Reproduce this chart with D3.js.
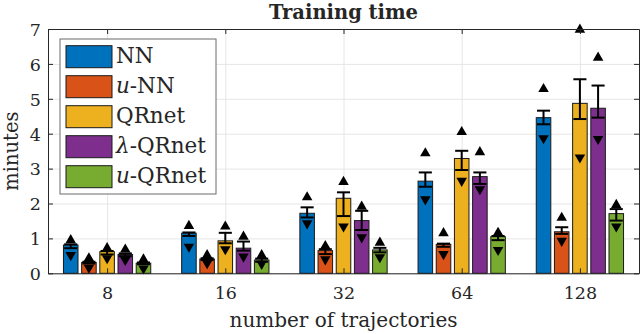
<!DOCTYPE html>
<html>
<head>
<meta charset="utf-8">
<script src="https://cdn.jsdelivr.net/npm/d3@7"></script>
<style>
body { margin: 0; background: #fff; }
text { font-family: "DejaVu Serif", serif; fill: #262626; }
</style>
</head>
<body>
<div id="chart"></div>
<script>
var categories = ["8", "16", "32", "64", "128"];
var seriesNames = ["NN", "u-NN", "QRnet", "λ-QRnet", "u-QRnet"];
var colors = ["#0072BD", "#D95319", "#EDB120", "#7E2F8E", "#77AC30"];
var yTicks = [0, 1, 2, 3, 4, 5, 6, 7];

// mean training time (bar height)
var meanNN     = [0.81, 1.15, 1.72, 2.64, 4.46];
var meanUNN    = [0.31, 0.41, 0.65, 0.83, 1.19];
var meanQR     = [0.62, 0.93, 2.15, 3.29, 4.87];
var meanLQR    = [0.54, 0.72, 1.51, 2.77, 4.73];
var meanUQR    = [0.29, 0.38, 0.67, 1.05, 1.71];

// error bar ends
var upNN  = [0.83, 1.17, 1.89, 2.89, 4.66];
var upUNN = [0.33, 0.43, 0.69, 0.85, 1.32];
var upQR  = [0.64, 1.16, 2.32, 3.51, 5.56];
var upLQR = [0.57, 0.91, 1.79, 2.89, 5.38];
var upUQR = [0.31, 0.42, 0.73, 1.07, 1.84];

var loNN  = [0.72, 1.07, 1.60, 2.48, 4.27];
var loUNN = [0.28, 0.38, 0.55, 0.76, 1.13];
var loQR  = [0.54, 0.86, 1.64, 2.96, 4.42];
var loLQR = [0.49, 0.65, 1.24, 2.56, 4.46];
var loUQR = [0.26, 0.33, 0.60, 0.95, 1.51];

// max (up triangle) and min (down triangle)
var maxNN  = [0.95, 1.36, 2.18, 3.44, 5.28];
var maxUNN = [0.43, 0.52, 0.78, 1.15, 1.59];
var maxQR  = [0.72, 1.34, 2.62, 4.05, 6.98];
var maxLQR = [0.68, 1.05, 1.91, 3.47, 6.18];
var maxUQR = [0.40, 0.52, 0.88, 1.16, 1.96];

var minNN  = [0.52, 0.76, 1.43, 2.12, 3.87];
var minUNN = [0.16, 0.29, 0.40, 0.55, 0.93];
var minQR  = [0.43, 0.69, 1.34, 2.65, 3.32];
var minLQR = [0.38, 0.48, 1.03, 2.41, 3.85];
var minUQR = [0.14, 0.27, 0.46, 0.67, 1.34];

var means = [meanNN, meanUNN, meanQR, meanLQR, meanUQR];
var ups = [upNN, upUNN, upQR, upLQR, upUQR];
var los = [loNN, loUNN, loQR, loLQR, loUQR];
var maxs = [maxNN, maxUNN, maxQR, maxLQR, maxUQR];
var mins = [minNN, minUNN, minQR, minLQR, minUQR];

var W = 640, H = 334;
var pLeft = 48, pRight = 639, pTop = 29, pBottom = 273.3;

var svg = d3.select("#chart").append("svg")
    .attr("width", W)
    .attr("height", H);

var x = d3.scaleLinear().domain([0.5, 5.5]).range([pLeft, pRight]);
var y = d3.scaleLinear().domain([0, 7]).range([pBottom, pTop]);

var groupWidth = Math.min(0.8, 5 / (5 + 1.5));
var step = groupWidth / 5;
var barW = x(0.8 * step) - x(0);

// grid
svg.append("g")
    .attr("transform", "translate(" + pLeft + ",0)")
    .call(d3.axisLeft(y).tickValues(yTicks).tickSize(-(pRight - pLeft)).tickFormat(""))
    .call(function(g) {
        g.select(".domain").remove();
        g.selectAll("line").attr("stroke", "#e6e6e6");
    });
svg.append("g")
    .attr("transform", "translate(0," + pBottom + ")")
    .call(d3.axisBottom(x).tickValues([1, 2, 3, 4, 5]).tickSize(-(pBottom - pTop)).tickFormat(""))
    .call(function(g) {
        g.select(".domain").remove();
        g.selectAll("line").attr("stroke", "#e6e6e6");
    });

// flat list of bars
var bars = [];
for (var s = 0; s < seriesNames.length; s++) {
    for (var c = 0; c < categories.length; c++) {
        bars.push({
            s: s,
            cx: (c + 1) + (s - 2) * step,
            mean: means[s][c],
            up: ups[s][c],
            lo: los[s][c],
            max: maxs[s][c],
            min: mins[s][c]
        });
    }
}

svg.selectAll(".bar")
    .data(bars)
    .enter()
    .append("rect")
    .attr("class", "bar")
    .attr("x", function(d) { return x(d.cx) - barW / 2; })
    .attr("y", function(d) { return y(d.mean); })
    .attr("width", barW)
    .attr("height", function(d) { return y(0) - y(d.mean); })
    .attr("fill", function(d) { return colors[d.s]; })
    .attr("stroke", "#1a1a1a")
    .attr("stroke-width", 1);

// error bars
var capW = barW * 0.9;
var eb = svg.selectAll(".err")
    .data(bars)
    .enter()
    .append("g")
    .attr("class", "err")
    .attr("stroke", "#000")
    .attr("stroke-width", 2);
eb.append("line")
    .attr("x1", function(d) { return x(d.cx); })
    .attr("x2", function(d) { return x(d.cx); })
    .attr("y1", function(d) { return y(d.lo); })
    .attr("y2", function(d) { return y(d.up); });
eb.append("line")
    .attr("x1", function(d) { return x(d.cx) - capW / 2; })
    .attr("x2", function(d) { return x(d.cx) + capW / 2; })
    .attr("y1", function(d) { return y(d.up); })
    .attr("y2", function(d) { return y(d.up); });
eb.append("line")
    .attr("x1", function(d) { return x(d.cx) - capW / 2; })
    .attr("x2", function(d) { return x(d.cx) + capW / 2; })
    .attr("y1", function(d) { return y(d.lo); })
    .attr("y2", function(d) { return y(d.lo); });

// min / max markers
var tri = d3.symbol().type(d3.symbolTriangle).size(48);
svg.selectAll(".maxm")
    .data(bars)
    .enter()
    .append("path")
    .attr("class", "maxm")
    .attr("d", tri)
    .attr("transform", function(d) { return "translate(" + x(d.cx) + "," + y(d.max) + ")"; })
    .attr("fill", "#000");
svg.selectAll(".minm")
    .data(bars)
    .enter()
    .append("path")
    .attr("class", "minm")
    .attr("d", tri)
    .attr("transform", function(d) { return "translate(" + x(d.cx) + "," + y(d.min) + ") rotate(180)"; })
    .attr("fill", "#000");

// axes
var axisColor = "#262626";
var styleAxis = function(g) {
    g.select(".domain").attr("stroke", axisColor);
    g.selectAll(".tick line").attr("stroke", axisColor);
    g.selectAll(".tick text").style("font-family", "DejaVu Serif").attr("fill", axisColor);
};
svg.append("g")
    .attr("transform", "translate(" + pLeft + ",0)")
    .call(d3.axisLeft(y).tickValues(yTicks).tickFormat(d3.format("d"))
        .tickSizeInner(-5).tickSizeOuter(0).tickPadding(7))
    .call(styleAxis)
    .selectAll("text").attr("font-size", 17.5).attr("dy", "0.36em");
svg.append("g")
    .attr("transform", "translate(" + pRight + ",0)")
    .call(d3.axisRight(y).tickValues(yTicks).tickSizeInner(-5).tickSizeOuter(0).tickFormat(""))
    .call(styleAxis);
svg.append("g")
    .attr("transform", "translate(0," + pBottom + ")")
    .call(d3.axisBottom(x).tickValues([1, 2, 3, 4, 5]).tickSizeInner(-5).tickSizeOuter(0).tickPadding(13)
        .tickFormat(function(d) { return categories[d - 1]; }))
    .call(styleAxis)
    .selectAll("text").attr("font-size", 17.5);
svg.append("g")
    .attr("transform", "translate(0," + pTop + ")")
    .call(d3.axisTop(x).tickValues([1, 2, 3, 4, 5]).tickSizeInner(-5).tickSizeOuter(0).tickFormat(""))
    .call(styleAxis);

// titles
svg.append("text")
    .attr("x", (pLeft + pRight) / 2)
    .attr("y", 19)
    .attr("text-anchor", "middle")
    .attr("font-size", 19.5)
    .attr("font-weight", "bold")
    .attr("fill", "#000")
    .text("Training time");
svg.append("text")
    .attr("x", (pLeft + pRight) / 2)
    .attr("y", 327)
    .attr("text-anchor", "middle")
    .attr("font-size", 20)
    .text("number of trajectories");
svg.append("text")
    .attr("transform", "translate(18," + ((pTop + pBottom) / 2) + ") rotate(-90)")
    .attr("text-anchor", "middle")
    .attr("font-size", 19.5)
    .text("minutes");

// legend
var lg = svg.append("g");
lg.append("rect")
    .attr("x", 60)
    .attr("y", 39)
    .attr("width", 156)
    .attr("height", 155)
    .attr("fill", "#fff")
    .attr("stroke", "#6b6b6b")
    .attr("stroke-width", 1);
var items = lg.selectAll(".item")
    .data(seriesNames)
    .enter()
    .append("g")
    .attr("class", "item")
    .attr("transform", function(d, i) { return "translate(0," + (45.7 + i * 30) + ")"; });
items.append("rect")
    .attr("x", 66)
    .attr("y", 0)
    .attr("width", 46)
    .attr("height", 22)
    .attr("fill", function(d, i) { return colors[i]; })
    .attr("stroke", "#1a1a1a")
    .attr("stroke-width", 1);
items.append("text")
    .attr("x", 116)
    .attr("y", 17)
    .attr("font-size", 21.5)
    .attr("fill", "#000")
    .each(function(d) {
        var t = d3.select(this);
        if (d.indexOf("u-") === 0) {
            t.append("tspan").attr("font-style", "italic").text("u");
            t.append("tspan").text(d.slice(1));
        } else if (d.indexOf("λ") === 0) {
            t.append("tspan").attr("font-style", "italic").text("λ");
            t.append("tspan").text(d.slice(1));
        } else {
            t.text(d);
        }
    });
</script>
</body>
</html>
